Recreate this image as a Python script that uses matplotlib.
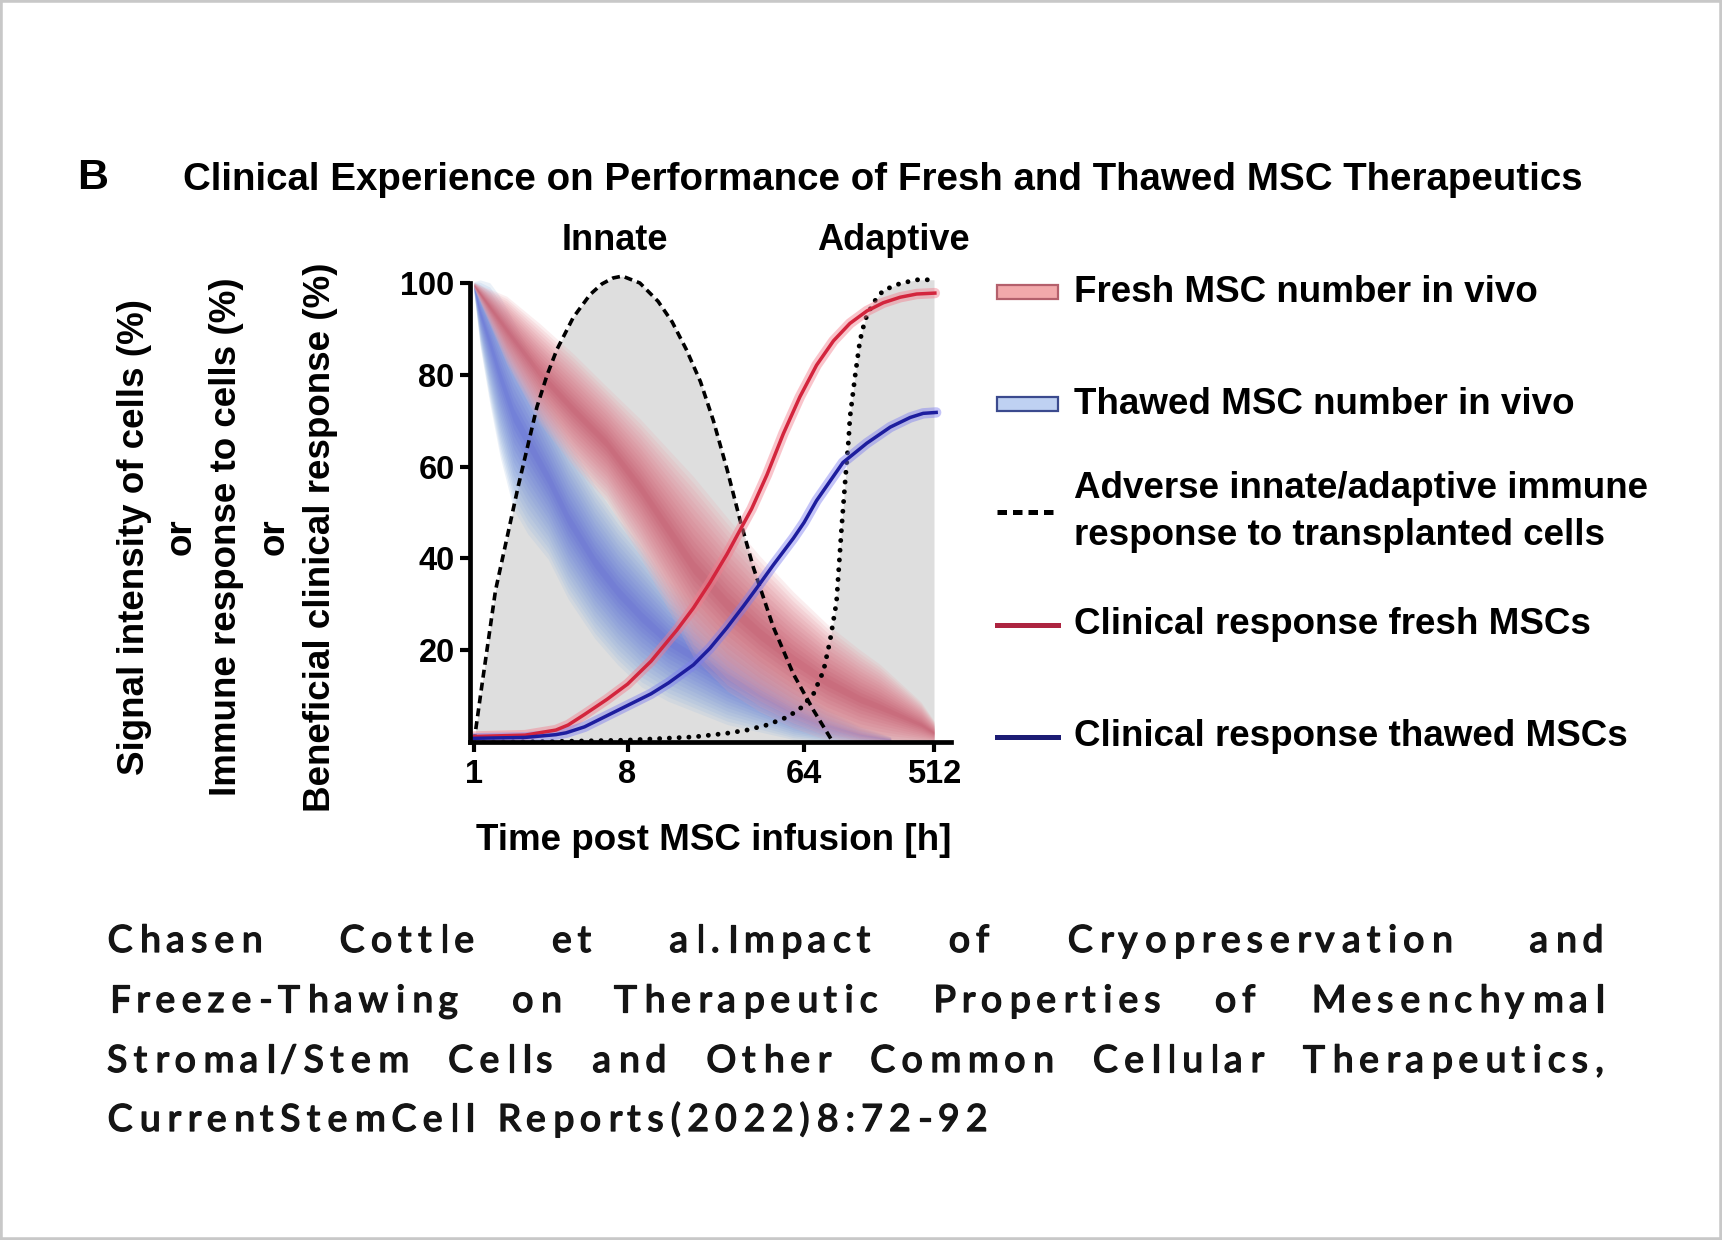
import numpy as np
import matplotlib
matplotlib.use("Agg")
import matplotlib.pyplot as plt
from matplotlib.patches import Rectangle
from matplotlib.lines import Line2D
from matplotlib.ticker import NullLocator
from matplotlib.font_manager import FontProperties, findfont
from matplotlib.ft2font import FT2Font
from matplotlib.colors import to_rgb
import matplotlib.patheffects as pe

plt.rcParams['font.family'] = ['Liberation Sans', 'DejaVu Sans']

# ---------------- data ----------------
x_tick_hours = [1, 8, 64, 512]
x_tick_labels = ["1", "8", "64", "512"]
y_ticks = [20, 40, 60, 80, 100]

# time values are given as log2(hours)
innate_log2h = [0, 0.15, 0.42, 0.87, 1.23, 1.43, 1.62, 1.94, 2.27, 2.5, 2.72, 2.9, 3.21, 3.52,
                3.76, 4.0, 4.24, 4.46, 4.69, 4.91, 5.14, 5.48, 5.82, 6.22, 6.64]
innate_pct = [0, 12, 33, 56, 73, 80, 85.5, 92.5, 97.5, 99.8, 101.1, 101.5, 100, 96,
              91.5, 85.5, 78.5, 70, 59.5, 48.5, 38, 25, 14.8, 6.9, 0.4]

adaptive_log2h = [0, 1.5, 3.0, 4.12, 4.69, 5.03, 5.37, 5.71, 5.93, 6.22, 6.45, 6.6,
                  6.75, 6.87, 6.96, 7.03, 7.06, 7.18, 7.29, 7.41, 7.6, 7.83, 8.22, 8.6, 9.0]
adaptive_pct = [0, 0.1, 0.4, 1.1, 1.9, 2.6, 3.7, 5.4, 7.2, 10.5, 15.5, 22,
                30.5, 47, 58, 66, 70.7, 79.8, 87.4, 92, 95.7, 98.4, 99.9, 100.7, 100.7]

fresh_clin_log2h = [0, 1.0, 1.6, 1.84, 2.16, 2.6, 3.0, 3.4, 3.84, 4.12, 4.4, 4.69, 4.91, 5.11,
                    5.37, 5.65, 5.93, 6.29, 6.68, 7.06, 7.45, 7.83, 8.22, 8.6, 9.02]
fresh_clin_pct = [1.2, 1.5, 2.6, 3.7, 6.0, 9.3, 12.6, 17.6, 24.4, 29.2, 34.7, 40.9, 46.1, 50.8,
                  58.2, 67.2, 75.2, 82.1, 87.4, 91.2, 93.9, 95.7, 96.9, 97.6, 97.8]

thawed_clin_log2h = [0, 1.0, 1.6, 1.8, 2.16, 2.81, 3.4, 3.7, 4.12, 4.4, 4.69, 4.97, 5.2, 5.48,
                     5.82, 6.0, 6.29, 6.9, 7.45, 7.99, 8.45, 8.75, 9.05]
thawed_clin_pct = [0.8, 1.0, 1.6, 2.0, 3.3, 6.9, 10.5, 12.9, 16.8, 20.4, 24.9, 29.6, 33.6, 38.6,
                   44.4, 47.8, 52.6, 60.9, 65.1, 68.6, 70.7, 71.6, 71.8]

fresh_band_log2h = [0, 0.64, 1.29, 1.94, 2.59, 3.21, 4.12, 4.69, 5.25, 5.82, 6.53, 7.29, 7.75, 8.7, 9.0]
fresh_band_hi = [100, 95.4, 88.6, 81.8, 74.6, 67, 53.3, 44.6, 36.6, 29.3, 22.8, 17.6, 14.8, 7.6, 4]
fresh_band_lo = [99, 84, 71.8, 63, 55.5, 44, 23, 15.5, 10.5, 6.5, 3.3, 1.1, 0.5, 0, 0]

thawed_band_log2h = [0, 0.12, 0.31, 0.51, 0.77, 1.05, 1.45, 1.84, 2.36, 2.81, 3.24, 3.69,
                     4.69, 5.82, 6.5, 7.3, 8.0]
thawed_band_hi = [100, 99, 97, 93, 87, 81, 71, 62, 52, 45, 39, 32, 22, 11, 6.5, 3, 1]
thawed_band_lo = [98, 87.8, 76.7, 66.2, 55.5, 50, 43.9, 35.2, 26.4, 20.5, 15.5, 11.9,
                  6.2, 1.9, 0.8, 0.2, 0]

legend_labels = ["Fresh MSC number in vivo",
                 "Thawed MSC number in vivo",
                 "Adverse innate/adaptive immune\nresponse to transplanted cells",
                 "Clinical response fresh MSCs",
                 "Clinical response thawed MSCs"]

title = "Clinical Experience on Performance of Fresh and Thawed MSC Therapeutics"
ylabel_lines = ["Signal intensity of cells (%)", "or", "Immune response to cells (%)",
                "or", "Beneficial clinical response (%)"]
xlabel = "Time post MSC infusion [h]"
citation_lines = ["Chasen Cottle et al.Impact of Cryopreservation and",
                  "Freeze-Thawing on Therapeutic Properties of Mesenchymal",
                  "Stromal/Stem Cells and Other Common Cellular Therapeutics,",
                  "CurrentStemCell Reports(2022)8:72-92"]

# ---------------- figure ----------------
W, H = 1722, 1240
fig = plt.figure(figsize=(W / 100, H / 100), dpi=100)
fig.patch.set_facecolor("white")

# axis geometry (pixel columns of the x ticks in the layout; axis is a warped log2 scale)
tick_px = np.array([474.0, 627.5, 804.0, 934.0])
tick_l2 = np.log2(np.array(x_tick_hours, float))
lo_slope = (tick_px[1] - tick_px[0]) / (tick_l2[1] - tick_l2[0])
hi_slope = (tick_px[-1] - tick_px[-2]) / (tick_l2[-1] - tick_l2[-2])


def _fwd(x):
    l = np.log2(np.clip(np.asarray(x, float), 1e-12, None))
    p = np.interp(l, tick_l2, tick_px)
    p = np.where(l < tick_l2[0], tick_px[0] + (l - tick_l2[0]) * lo_slope, p)
    p = np.where(l > tick_l2[-1], tick_px[-1] + (l - tick_l2[-1]) * hi_slope, p)
    return p


def _inv(p):
    p = np.asarray(p, float)
    l = np.interp(p, tick_px, tick_l2)
    l = np.where(p < tick_px[0], tick_l2[0] + (p - tick_px[0]) / lo_slope, l)
    l = np.where(p > tick_px[-1], tick_l2[-1] + (p - tick_px[-1]) / hi_slope, l)
    return 2.0 ** l


ax_l, ax_r, ax_b, ax_t = 470, 951, 742, 269
ax = fig.add_axes([ax_l / W, 1 - ax_b / H, (ax_r - ax_l) / W, (ax_b - ax_t) / H])
ax.set_xscale("function", functions=(_fwd, _inv))
ax.set_xlim(_inv(ax_l), _inv(ax_r))
ax.set_ylim(0, 100 * (ax_b - ax_t) / (742 - 283))
ax.patch.set_alpha(0)


def hrs(a):
    return 2.0 ** np.asarray(a, float)


GREY = "#dedede"
ax.fill_between(hrs(innate_log2h), 0, innate_pct, color=GREY, lw=0, zorder=1)
ax.fill_between(hrs(adaptive_log2h), 0, adaptive_pct, color=GREY, lw=0, zorder=1)


def mix(c1, c2, t):
    a, b = np.array(to_rgb(c1)), np.array(to_rgb(c2))
    return tuple(a + (b - a) * t)


def band(lg, hi, lo, c_edge, c_core, z, alpha):
    h = hrs(lg)
    hi = np.asarray(hi, float)
    lo = np.asarray(lo, float)
    mid = (hi + lo) / 2
    half = (hi - lo) / 2
    N = 14
    for k in range(N):
        f = 1.3 * (1 - k / N)
        col = mix(c_edge, c_core, k / (N - 1))
        ax.fill_between(h, mid - half * f, mid + half * f, color=col, alpha=alpha,
                        lw=0, zorder=z)


band(thawed_band_log2h, thawed_band_hi, thawed_band_lo, "#9ebde0", "#5f66d4", 2, 0.2)
band(fresh_band_log2h, fresh_band_hi, fresh_band_lo, "#eaa6ae", "#c05468", 3, 0.19)

# immune response curves
ax.plot(hrs(innate_log2h), innate_pct, color="black", lw=2.6, dashes=(2.2, 1.4), zorder=5)
ax.plot(hrs(adaptive_log2h), adaptive_pct, color="black", lw=3.5, dashes=(0.01, 2.0),
        dash_capstyle="round", zorder=5)

# clinical response curves with soft glow
ax.plot(hrs(fresh_clin_log2h), fresh_clin_pct, color="#f27d8d", lw=7.5, alpha=0.45,
        solid_capstyle="round", zorder=6)
ax.plot(hrs(fresh_clin_log2h), fresh_clin_pct, color="#d3253d", lw=2.5, zorder=7)
ax.plot(hrs(thawed_clin_log2h), thawed_clin_pct, color="#7d7ef0", lw=7.5, alpha=0.45,
        solid_capstyle="round", zorder=6)
ax.plot(hrs(thawed_clin_log2h), thawed_clin_pct, color="#1d1d9e", lw=2.5, zorder=7)

# axes styling
for s in ["top", "right"]:
    ax.spines[s].set_visible(False)
for s in ["left", "bottom"]:
    ax.spines[s].set_linewidth(3.4)
    ax.spines[s].set_zorder(8)
ax.spines["left"].set_bounds(0, 100)
ax.set_xticks(x_tick_hours)
ax.set_xticklabels(x_tick_labels)
ax.xaxis.set_minor_locator(NullLocator())
ax.set_yticks(y_ticks)
ax.tick_params(axis="both", direction="out", length=7.5, width=3.0, labelsize=23.5)
ax.tick_params(axis="y", pad=3.5)
ax.tick_params(axis="x", pad=5)
for lab in ax.get_xticklabels() + ax.get_yticklabels():
    lab.set_fontweight("bold")

# ---------------- overlay for texts / legend ----------------
ov = fig.add_axes([0, 0, 1, 1])
ov.set_xlim(0, W)
ov.set_ylim(H, 0)
ov.axis("off")

ov.text(77, 178, "B", fontsize=31, fontweight="bold", ha="left", va="center")
ov.text(183, 180, title, fontsize=27.7, fontweight="bold", ha="left", va="center")
ov.text(615, 240, "Innate", fontsize=26, fontweight="bold", ha="center", va="center")
ov.text(893, 240, "Adaptive", fontsize=26, fontweight="bold", ha="center", va="center")
ov.text(714, 840, xlabel, fontsize=26.5, fontweight="bold", ha="center", va="center")
for xc, s in zip([134, 181, 227, 274, 321], ylabel_lines):
    ov.text(xc, 537, s, fontsize=26.5, fontweight="bold", ha="center", va="center",
            rotation=90)

# legend
hx0, hx1, tx = 997, 1058, 1074
ov.add_patch(Rectangle((hx0, 285), hx1 - hx0, 14, facecolor="#f2a9ab", edgecolor="#b4606c", lw=1.6))
ov.add_patch(Rectangle((hx0, 397), hx1 - hx0, 14, facecolor="#bfd1f2", edgecolor="#3b4a8e", lw=1.6))
ov.add_line(Line2D([hx0, hx1 - 3], [512, 512], color="black", lw=3.6, dashes=(1.9, 1.2)))
ov.add_line(Line2D([hx0, hx1], [625, 625], color="#ad2440", lw=3.6))
ov.add_line(Line2D([hx0, hx1], [737, 737], color="#1c1c74", lw=3.6))
leg_y = [292, 404, 512, 625, 737]
for yy, lab in zip(leg_y, legend_labels):
    ov.text(tx, yy, lab, fontsize=26.5, fontweight="bold", ha="left", va="center",
            linespacing=1.45)

# citation (letter-spaced, justified)
cit_size = 27
cfp = FontProperties(family="Lato", size=cit_size, weight="medium")
ft = FT2Font(findfont(cfp))
ft.set_size(cit_size, 100)
thicken = [pe.withStroke(linewidth=0.9, foreground="#151515")]


def glyph(ch):
    g = ft.load_char(ord(ch))
    return g.linearHoriAdvance / 65536.0, g.horiBearingX / 64.0


def word_width(wd, trk):
    return sum(glyph(c)[0] for c in wd) + trk * (len(wd) - 1)


def draw_word(x, y, wd, trk):
    for c in wd:
        a, b = glyph(c)
        ov.text(x + b, y, c, fontproperties=cfp, ha="left", va="baseline", color="#151515",
                path_effects=thicken)
        x += a + trk
    return x


left, right = 106, 1602
last = citation_lines[-1]
natural = sum(glyph(c)[0] for c in last)
trk = (986 - left - natural) / (len(last) - 1)
baselines = [952, 1012, 1072, 1131]
for i, (line, yb) in enumerate(zip(citation_lines, baselines)):
    words = line.split(" ")
    if i < len(citation_lines) - 1:
        tot = sum(word_width(w, trk) for w in words)
        gap = (right - left - tot) / (len(words) - 1)
    else:
        gap = glyph(" ")[0] + 2 * trk
    x = left
    for w in words:
        draw_word(x, yb, w, trk)
        x += word_width(w, trk) + gap

# frame
fig.patches.append(Rectangle((0, 0), 1, 1, transform=fig.transFigure, fill=False,
                             edgecolor="#c8c8c8", lw=4))

fig.savefig("out.png", dpi=100, facecolor="white")
